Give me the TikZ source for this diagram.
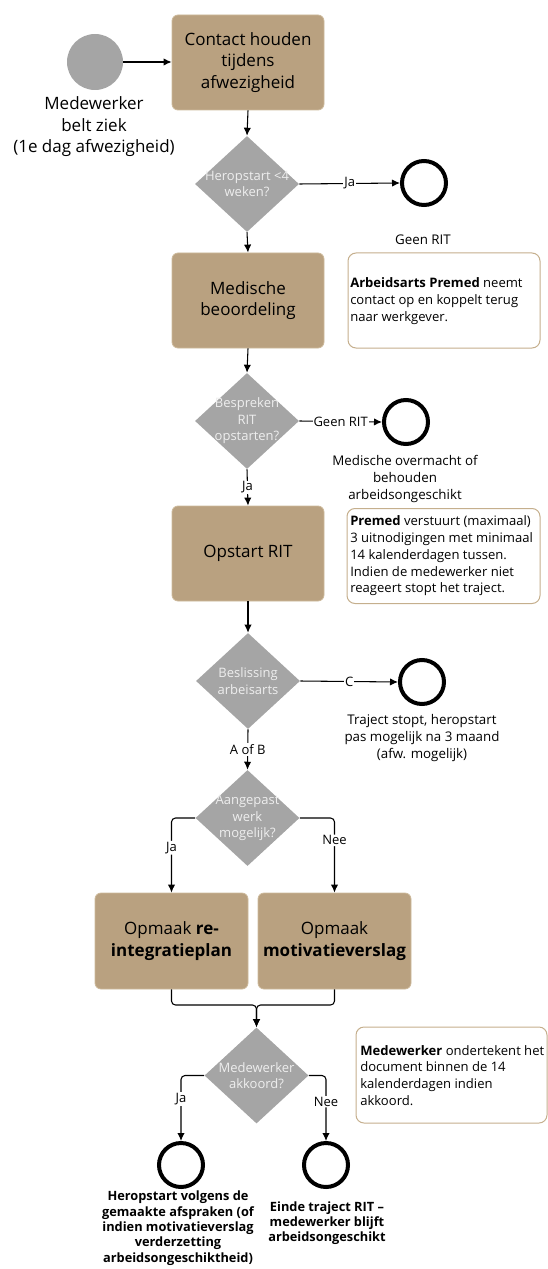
\documentclass[tikz,border=0pt]{standalone}
\usepackage{fontspec}
\setmainfont{Open Sans}
\usetikzlibrary{shapes.geometric,arrows.meta}
\definecolor{tanfill}{HTML}{B9A180}
\definecolor{tanedge}{HTML}{CDBA9C}
\definecolor{noteedge}{HTML}{C5AF8D}
\definecolor{dgray}{HTML}{A5A5A5}
\definecolor{dtxt}{HTML}{EEEEEE}
\begin{document}
\begin{tikzpicture}[x=0.75pt,y=-0.75pt,
  box/.style={rectangle, rounded corners=4.5pt, fill=tanfill, draw=tanedge, line width=0.6pt, minimum width=114pt, minimum height=71.25pt, align=center, font=\fontsize{12.75}{16.1}\selectfont, inner sep=0pt},
  dia/.style={diamond, fill=dgray, minimum width=78pt, minimum height=72pt, inner sep=0pt},
  dtext/.style={text=dtxt, align=center, font=\fontsize{9.75}{12.4}\selectfont, inner sep=0pt},
  endc/.style={circle, draw=black, line width=3pt, fill=white, minimum size=33pt, inner sep=0pt},
  note/.style={rectangle, rounded corners=6pt, draw=noteedge, line width=0.75pt, fill=white, minimum height=71.25pt, inner sep=0pt},
  ntext/.style={align=left, font=\fontsize{9.8}{12.6}\selectfont, inner sep=0pt, anchor=west},
  etext/.style={align=center, font=\fontsize{10}{12.75}\selectfont, inner sep=0pt},
  btext/.style={align=center, font=\fontsize{9.6}{11.5}\selectfont\bfseries, inner sep=0pt},
  lbl/.style={fill=white, inner sep=0.75pt, font=\fontsize{9.75}{11}\selectfont},
  conn/.style={draw=black, line width=0.8pt, -{Latex[length=6pt,width=5.5pt]}},
]
\useasboundingbox (0,0) rectangle (547,1269);

% start
\node[circle, fill=dgray, minimum size=42pt, inner sep=0pt] (s) at (95,62) {};
\node[align=center, font=\fontsize{12.75}{16.1}\selectfont, inner sep=0pt] (slab) at (94,127) {Medewerker\\belt ziek\\(1e dag afwezigheid)};

% boxes
\node[box] (b1) at (248,62.5) {Contact houden\\tijdens\\afwezigheid};
\node[box] (b2) at (248,300.5) {Medische\\beoordeling};
\node[box] (b3) at (248,553.5) {Opstart RIT};
\node[box, minimum width=114.75pt, minimum height=72pt] (b4) at (171.5,941) {Opmaak \textbf{re-}\\\textbf{integratieplan}};
\node[box, minimum width=114.75pt, minimum height=72pt] (b5) at (334.5,941) {Opmaak\\\textbf{motivatieverslag}};

% diamonds
\node[dia] (d1) at (247,184) {};
\node[dtext] at (d1) {Heropstart <4\\weken?};
\node[dia] (d2) at (247,421) {};
\node[dtext] at (d2) {Bespreken\\RIT\\opstarten?};
\node[dia] (d3) at (248,681) {};
\node[dtext] at (d3) {Beslissing\\arbeisarts};
\node[dia] (d4) at (247.5,818) {};
\node[dtext] at (d4) {Aangepast\\werk\\mogelijk?};
\node[dia] (d5) at (256.5,1075.5) {};
\node[dtext] at (d5) {Medewerker\\akkoord?};

% end circles
\node[endc] (e1) at (424,183) {};
\node[endc] (e2) at (406,422) {};
\node[endc] (e3) at (422,682) {};
\node[endc] (e4) at (181,1165) {};
\node[endc] (e5) at (326,1165) {};

% end texts
\node[etext] (t1) at (423,240) {Geen RIT};
\node[etext] (t2) at (405,479) {Medische overmacht of\\behouden\\arbeidsongeschikt};
\node[etext] (t3) at (422,738) {Traject stopt, heropstart\\pas mogelijk na 3 maand\\(afw. mogelijk)};
\node[btext] (t4) at (178,1228) {Heropstart volgens de\\gemaakte afspraken (of\\indien motivatieverslag\\verderzetting\\arbeidsongeschiktheid)};
\node[btext] (t5) at (327,1223) {Einde traject RIT –\\medewerker blijft\\arbeidsongeschikt};

% notes
\node[note, minimum width=144pt] (n1) at (444,300.5) {};
\node[ntext] at (350,301) {\textbf{Arbeidsarts Premed} neemt\\contact op en koppelt terug\\naar werkgever.};
\node[note, minimum width=144.75pt] (n2) at (443.5,556) {};
\node[ntext] at (350,556) {\textbf{Premed} verstuurt (maximaal)\\3 uitnodigingen met minimaal\\14 kalenderdagen tussen.\\Indien de medewerker niet\\reageert stopt het traject.};
\node[note, minimum width=143.25pt, minimum height=72pt] (n3) at (451.5,1075) {};
\node[ntext] at (360,1075.5) {\textbf{Medewerker} ondertekent het\\document binnen de 14\\kalenderdagen indien\\akkoord.};

% connectors
\draw[conn] (s.east) -- (b1.west |- s.east);
\draw[conn] (b1.south) -- (d1.north);
\draw[conn] (d1.east) -- node[lbl]{Ja} (e1.west);
\draw[conn] (d1.south) -- (b2.north);
\draw[conn] (b2.south) -- (d2.north);
\draw[conn] (d2.east) -- node[lbl]{Geen RIT} (e2.west);
\draw[conn] (d2.south) -- node[lbl]{Ja} (b3.north);
\draw[conn] (b3.south) -- (d3.north);
\draw[conn] (d3.east) -- node[lbl]{C} (e3.west);
\draw[conn] (d3.south) -- node[lbl]{A of B} (d4.north);
\draw[conn, rounded corners=3pt] (d4.west) -| node[lbl,pos=0.7]{Ja} (b4.north);
\draw[conn, rounded corners=3pt] (d4.east) -| node[lbl,pos=0.65]{Nee} (b5.north);
\coordinate (m) at (256.5,1005);
\draw[conn, rounded corners=3pt] (b4.south) |- (m) -- (d5.north);
\draw[conn, rounded corners=3pt] (b5.south) |- (m) -- (d5.north);
\draw[conn, rounded corners=3pt] (d5.west) -| node[lbl,pos=0.68]{Ja} (e4.north);
\draw[conn, rounded corners=3pt] (d5.east) -| node[lbl,pos=0.7]{Nee} (e5.north);
\end{tikzpicture}
\end{document}
